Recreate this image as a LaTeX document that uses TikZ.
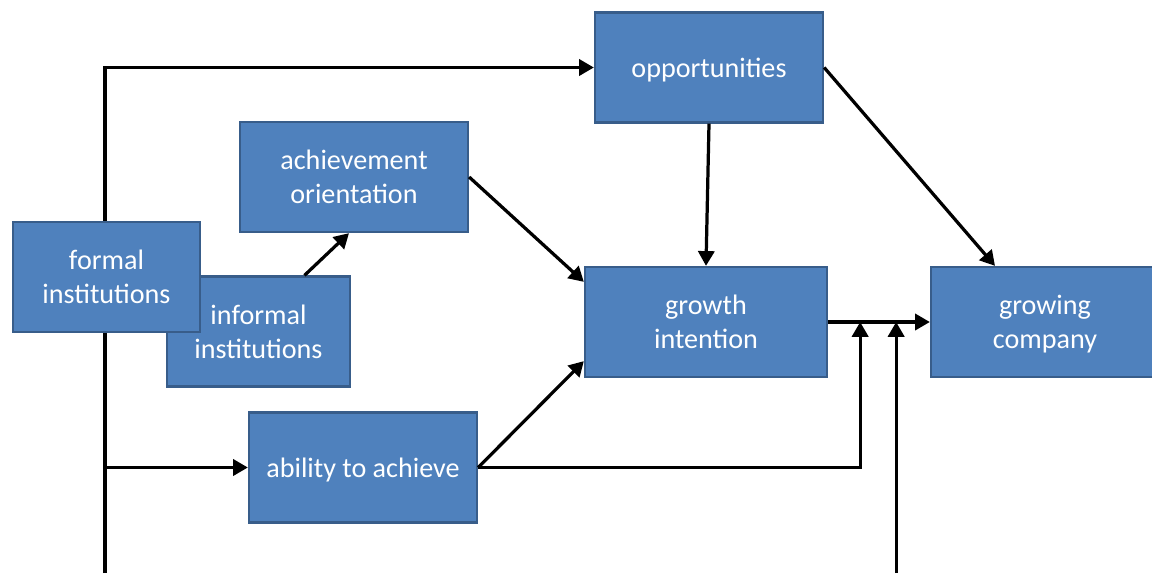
\documentclass[tikz,border=0pt]{standalone}
\usepackage{fontspec}
\setmainfont{Carlito}
\usepackage{xcolor}
\usepackage{tikz}
\usetikzlibrary{positioning, arrows.meta, calc, backgrounds}
\definecolor{boxblue}{HTML}{4F81BD}
\definecolor{boxborder}{HTML}{385D8A}

\tikzset{
  box/.style={fill=boxblue, draw=boxborder, line width=1.6pt, text=white, align=center,
              minimum width=5.7cm, minimum height=2.75cm, text depth=0pt,
              font=\fontsize{20}{24}\selectfont},
  link/.style={line width=2.3pt, -{Triangle[length=10.5pt, width=11.5pt]}}
}

\begin{document}
\begin{tikzpicture}[x=0.025cm, y=-0.025cm]
    \useasboundingbox (0,0) rectangle (1152,573);

    % boxes
    \node[box] (opp) at (709,67.5) {opportunities};
    \node[box] (ach) at (354,177) {achievement\\orientation};
    \node[box, minimum width=4.575cm] (inf) at (258.5,331.5) {informal\\institutions};
    \node[box, minimum width=4.675cm] (form) at (106.5,277) {formal\\institutions};
    \node[box, minimum width=6.05cm] (grow) at (706,322) {growth\\intention};
    \node[box] (comp) at (1045,322) {growing\\company};
    \node[box] (abl) at (363,467.5) {ability to achieve};

    % loose ends at the lower edge
    \coordinate (foot) at (105,573);
    \coordinate (j1) at ($(grow.east)+(32,0)$);
    \coordinate (j2) at ($(grow.east)+(68,0)$);

    % trunk behind the formal box
    \begin{scope}[on background layer]
      \draw[link] (foot) |- (opp.west);
      \draw[link] (foot |- abl.west) -- (abl.west);
    \end{scope}

    \draw[link] ($(inf.north)+(46,0)$) -- ($(ach.south)+(-5,0)$);
    \draw[link] (ach.east) -- ($(grow.north west)+(0,16)$);
    \draw[link] (abl.east) -- ($(grow.south west)+(0,-17)$);
    \draw[link] (opp.south) -- (grow.north);
    \draw[link] (opp.east) -- ($(comp.north)+(-50,0)$);
    \draw[link] (grow.east) -- (comp.west);
    \draw[link] (abl.east) -| (j1);
    \draw[link] (j2 |- foot) -- (j2);
  \end{tikzpicture}
\end{document}
